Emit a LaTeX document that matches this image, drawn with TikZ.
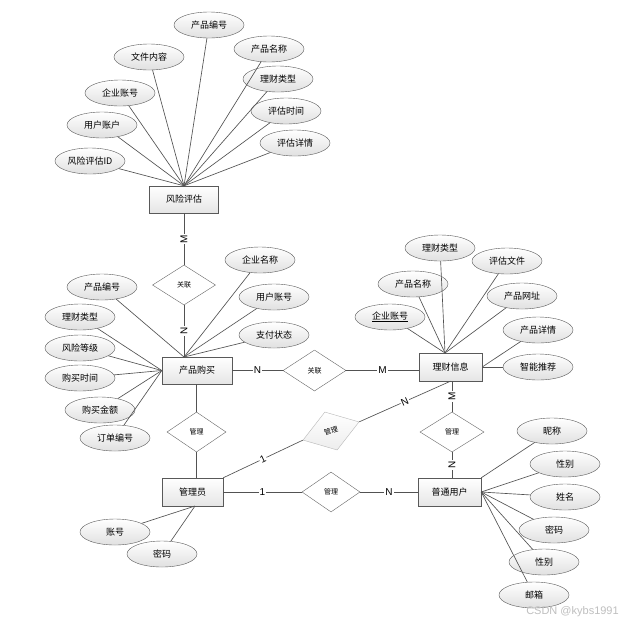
\documentclass[tikz,border=0pt]{standalone}
\usepackage{fontspec}
\newfontfamily\cjk{Noto Sans CJK SC}
\newfontfamily\lat{Liberation Sans}
\usetikzlibrary{shapes.geometric,shadows}
\begin{document}
\begin{tikzpicture}[x=1pt,y=-1pt,
 attr/.style={ellipse,draw=black!65,top color=white,bottom color=black!12,minimum width=70pt,minimum height=26pt,inner sep=0pt,font=\cjk\fontsize{9}{10}\selectfont},
 ent/.style={rectangle,draw=black!65,top color=white,bottom color=black!10,inner sep=0pt,font=\cjk\fontsize{9}{10}\selectfont,drop shadow={shadow xshift=0.8pt,shadow yshift=-0.8pt,opacity=0.35}},
 rel/.style={diamond,draw=black!60,fill=white,inner sep=0pt,aspect=1.6,font=\cjk\fontsize{7}{8}\selectfont},
 link/.style={draw=black!68,line width=0.65pt},
 card/.style={fill=white,inner sep=1pt,font=\lat\fontsize{10}{11}\selectfont},
]
\useasboundingbox[fill=white] (0,0) rectangle (626,625);

% entities
\node[ent,minimum width=69pt,minimum height=27pt] (fx) at (184,199.5) {风险评估};
\node[ent,minimum width=70pt,minimum height=27pt] (pb) at (197,370.5) {产品购买};
\node[ent,minimum width=63pt,minimum height=28pt] (lc) at (450.5,367) {理财信息};
\node[ent,minimum width=61pt,minimum height=28pt] (gly) at (192.5,492) {管理员};
\node[ent,minimum width=63pt,minimum height=28pt] (pu) at (449.5,492) {普通用户};

% relationships
\node[rel,minimum width=63pt,minimum height=40pt] (r1) at (184,285) {关联};
\node[rel,minimum width=63pt,minimum height=41pt] (r2) at (314.5,370.5) {关联};
\node[rel,minimum width=59pt,minimum height=40pt] (r3) at (196.5,432) {管理};
\node[rel,minimum width=64pt,minimum height=40pt] (r4) at (452,432) {管理};
\node[rel,minimum width=58pt,minimum height=40pt] (r5) at (331,492) {管理};
\node[rel,draw=black!28,top color=white,bottom color=black!7,minimum width=59pt,minimum height=40pt,rotate=18] (r6) at (331,431) {管理};

% relationship links
\draw[link] (fx.south) -- node[card,rotate=90]{M} (r1.north);
\coordinate (pbtop) at (184,357);
\draw[link] (r1.south) -- node[card,rotate=90]{N} (pbtop);
\draw[link] (pb.east |- r2.west) -- node[card]{N} (r2.west);
\draw[link] (r2.east) -- node[card]{M} (r2.east -| lc.west);
\draw[link] (pb.south -| r3.north) -- (r3.north);
\draw[link] (r3.south) -- (r3.south |- gly.north);
\draw[link] (gly.east) -- node[card]{1} (r5.west);
\draw[link] (r5.east) -- node[card]{N} (pu.west);
\draw[link] (r4.north |- lc.south) -- node[card,rotate=90]{M} (r4.north);
\draw[link] (r4.south) -- node[card,rotate=90]{N} (r4.south |- pu.north);
\draw[link] (gly.north east) -- node[card,sloped]{1} (r6.west);
\draw[link] (r6.east) -- node[card,sloped]{N} (lc.south);

% attributes of 风险评估
\node[attr] (a1) at (209,25) {产品编号};
\node[attr] (a2) at (149,57) {文件内容};
\node[attr] (a3) at (269,49) {产品名称};
\node[attr] (a4) at (278,79) {理财类型};
\node[attr] (a5) at (120,93) {企业账号};
\node[attr] (a6) at (286,111) {评估时间};
\node[attr] (a7) at (102,125) {用户账户};
\node[attr] (a8) at (295,143) {评估详情};
\node[attr] (a9) at (90,161) {风险评估ID};
\foreach \n in {a1,a2,a3,a4,a5,a6,a7,a8,a9} \draw[link] (\n) -- (fx.north);

% attributes of 产品购买
\node[attr] (b1) at (102,287) {产品编号};
\node[attr] (b2) at (80,317) {理财类型};
\node[attr] (b3) at (80,348) {风险等级};
\node[attr] (b4) at (80,378) {购买时间};
\node[attr] (b5) at (100,410) {购买金额};
\node[attr] (b6) at (115,438) {订单编号};
\node[attr] (b7) at (260,260) {企业名称};
\node[attr] (b8) at (274,297) {用户账号};
\node[attr] (b9) at (274,335) {支付状态};
\foreach \n in {b1,b7,b8,b9} \draw[link] (\n) -- (pbtop);
\foreach \n in {b2,b3,b4,b5,b6} \draw[link] (\n) -- (pb.west);

% attributes of 理财信息
\coordinate (lctop) at (445,353);
\node[attr] (c1) at (440,248) {理财类型};
\node[attr] (c2) at (507,261) {评估文件};
\node[attr] (c3) at (413,284) {产品名称};
\node[attr] (c4) at (522,296) {产品网址};
\node[attr] (c5) at (390,317) {\underline{企业账号}};
\node[attr] (c6) at (538,330) {产品详情};
\node[attr] (c7) at (538,367) {智能推荐};
\foreach \n in {c1,c2,c3,c4,c5} \draw[link] (\n) -- (lctop);
\foreach \n in {c6,c7} \draw[link] (\n) -- (lc.east);

% attributes of 普通用户
\node[attr] (d1) at (552,431) {昵称};
\node[attr] (d2) at (565,464) {性别};
\node[attr] (d3) at (565,497) {姓名};
\node[attr] (d4) at (554,530) {密码};
\node[attr] (d5) at (544,562) {性别};
\node[attr] (d6) at (534,595) {邮箱};
\draw[link] (d1) -- (pu.north east);
\foreach \n in {d2,d3,d4,d5,d6} \draw[link] (\n) -- (pu.east);

% attributes of 管理员
\coordinate (glybot) at (195,506);
\node[attr] (e1) at (115,532) {账号};
\node[attr] (e2) at (162,554) {密码};
\foreach \n in {e1,e2} \draw[link] (\n) -- (glybot);

% watermark
\node[font=\lat\fontsize{11}{12}\selectfont,text=black!25,inner sep=0pt] (wm) at (572.5,612) {CSDN @kybs1991};
\end{tikzpicture}
\end{document}
